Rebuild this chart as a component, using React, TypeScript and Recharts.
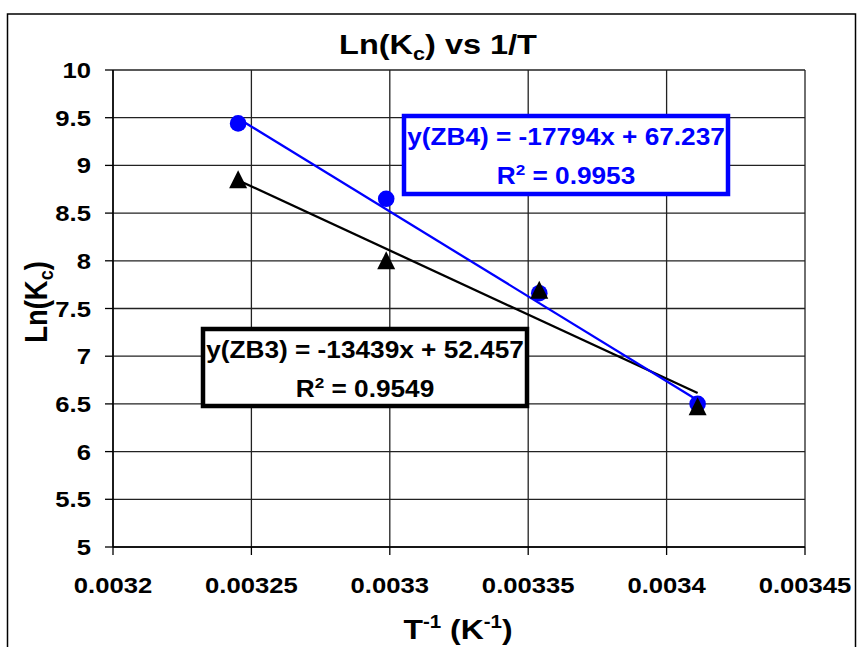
import React from 'react';
import { ScatterChart, Scatter, XAxis, YAxis, CartesianGrid } from 'recharts';

// 1/T values (K^-1) and ln(Kc) for both series
const INV_T = [0.0032452, 0.0032987, 0.003354, 0.0034112];
const LN_KC_ZB4 = [9.44, 8.65, 7.66, 6.5];
const LN_KC_ZB3 = [8.85, 8.0, 7.69, 6.47];

// linear fits: [slope, intercept]
const FIT_ZB4 = [-17794, 67.237];
const FIT_ZB3 = [-13439, 52.457];
const R2_ZB4 = '0.9953';
const R2_ZB3 = '0.9549';

const X_TICKS = [0.0032, 0.00325, 0.0033, 0.00335, 0.0034, 0.00345];
const Y_TICKS = [5, 5.5, 6, 6.5, 7, 7.5, 8, 8.5, 9, 9.5, 10];

const FONT = '"Liberation Sans", Arial, sans-serif';
const SX = 1.14; // text in the reference is a bit wider than normal

const zb4Points = INV_T.map((x, i) => ({ x, y: LN_KC_ZB4[i] }));
const zb3Points = INV_T.map((x, i) => ({ x, y: LN_KC_ZB3[i] }));

const fitLine = (fit: number[]) =>
  [INV_T[0], INV_T[INV_T.length - 1]].map((x) => ({ x, y: fit[0] * x + fit[1] }));

const Triangle = (p: any) => (
  <path
    d={`M${p.cx},${p.cy - 9.5} L${p.cx + 9},${p.cy + 8.5} L${p.cx - 9},${p.cy + 8.5} Z`}
    fill="#000"
  />
);

const Dot = (p: any) => <circle cx={p.cx} cy={p.cy} r={8.3} fill="#0000ff" />;

const NoShape = () => <g />;

const XTick = (p: any) => (
  <text
    transform={`translate(${p.x},${p.y + 36}) scale(${SX},1)`}
    textAnchor="middle"
    fontSize={22.5}
    fontWeight="bold"
    fontFamily={FONT}
    fill="#000"
  >
    {p.payload.value}
  </text>
);

const YTick = (p: any) => (
  <text
    transform={`translate(${p.x - 12},${p.y + 8}) scale(${SX},1)`}
    textAnchor="end"
    fontSize={22.5}
    fontWeight="bold"
    fontFamily={FONT}
    fill="#000"
  >
    {p.payload.value}
  </text>
);

function EquationBox({ x, y, w, h, color, name, fit, r2 }: any) {
  const cx = x + w / 2;
  const txt = { textAnchor: 'middle' as const, fontSize: 23, fontWeight: 'bold', fontFamily: FONT, fill: color };
  return (
    <g>
      <rect x={x} y={y} width={w} height={h} fill="#fff" stroke={color} strokeWidth={4.5} />
      <text transform={`translate(${cx},${y + 29}) scale(${SX},1)`} {...txt}>
        {`y(${name}) = ${fit[0]}x + ${fit[1]}`}
      </text>
      <text transform={`translate(${cx},${y + 68}) scale(${SX},1)`} {...txt}>
        R<tspan fontSize={15} dy={-9}>2</tspan>
        <tspan dy={9}>{` = ${r2}`}</tspan>
      </text>
    </g>
  );
}

export default function App() {
  const bold = { fontWeight: 'bold', fontFamily: FONT, fill: '#000' };
  return (
    <div style={{ position: 'absolute', left: 0, top: 0, width: 858, height: 647, background: '#fff' }}>
      <ScatterChart width={858} height={647} margin={{ top: 70, right: 53, left: 0, bottom: 0 }}>
        <CartesianGrid stroke="#222" strokeWidth={1.3} />
        <XAxis
          type="number"
          dataKey="x"
          domain={[0.0032, 0.00345]}
          ticks={X_TICKS}
          height={100}
          tickSize={8}
          axisLine={{ stroke: '#000', strokeWidth: 1.5 }}
          tickLine={{ stroke: '#000', strokeWidth: 1.3 }}
          tick={<XTick />}
          interval={0}
        />
        <YAxis
          type="number"
          dataKey="y"
          domain={[5, 10]}
          ticks={Y_TICKS}
          width={113}
          tickSize={8}
          axisLine={{ stroke: '#000', strokeWidth: 1.5 }}
          tickLine={{ stroke: '#000', strokeWidth: 1.3 }}
          tick={<YTick />}
          interval={0}
        />
        <Scatter
          data={fitLine(FIT_ZB3)}
          line={{ stroke: '#000', strokeWidth: 2.3 }}
          shape={NoShape}
          isAnimationActive={false}
        />
        <Scatter
          data={fitLine(FIT_ZB4)}
          line={{ stroke: '#0000ff', strokeWidth: 2.3 }}
          shape={NoShape}
          isAnimationActive={false}
        />
        <Scatter data={zb4Points} shape={Dot} isAnimationActive={false} />
        <Scatter data={zb3Points} shape={Triangle} isAnimationActive={false} />
      </ScatterChart>

      <svg
        width={858}
        height={647}
        style={{ position: 'absolute', left: 0, top: 0, pointerEvents: 'none' }}
      >
        <rect x={7.5} y={14} width={848} height={650} fill="none" stroke="#000" strokeWidth={1.5} />

        <text transform={`translate(438,54) scale(${SX},1)`} textAnchor="middle" fontSize={28.5} {...bold}>
          Ln(K<tspan fontSize={19} dy={6}>c</tspan>
          <tspan dy={-6}>) vs 1/T</tspan>
        </text>

        <text transform={`translate(47,302) scale(${SX},1) rotate(-90)`} textAnchor="middle" fontSize={27.5} {...bold}>
          Ln(K<tspan fontSize={18} dy={5}>c</tspan>
          <tspan dy={-5}>)</tspan>
        </text>

        <text transform={`translate(458,639) scale(${SX},1)`} textAnchor="middle" fontSize={28} {...bold}>
          T<tspan fontSize={18} dy={-11}>-1</tspan>
          <tspan dy={11}> (K</tspan>
          <tspan fontSize={18} dy={-11}>-1</tspan>
          <tspan dy={11}>)</tspan>
        </text>

        <EquationBox x={404} y={116} w={324} h={78} color="#0000ff" name="ZB4" fit={FIT_ZB4} r2={R2_ZB4} />
        <EquationBox x={203} y={329} w={324} h={77} color="#000" name="ZB3" fit={FIT_ZB3} r2={R2_ZB3} />
      </svg>
    </div>
  );
}
